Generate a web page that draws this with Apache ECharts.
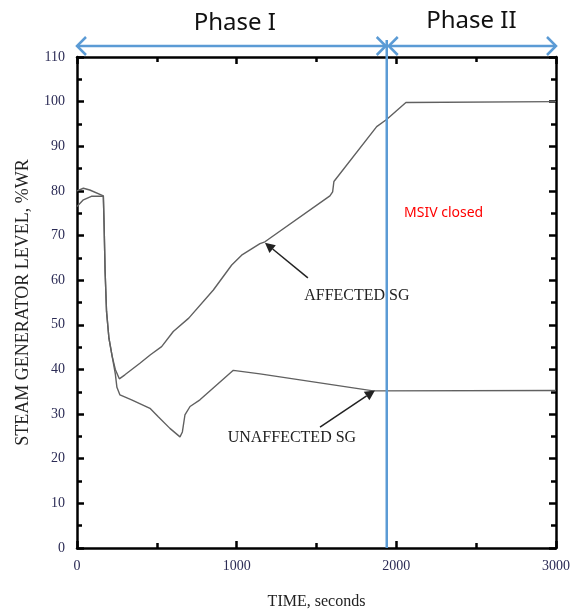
<!DOCTYPE html>
<html><head><meta charset="utf-8">
<script src="https://cdn.jsdelivr.net/npm/echarts@6/dist/echarts.min.js"></script>
<style>html,body{margin:0;padding:0;background:#fff}#c{width:579px;height:613px}</style>
</head><body><div id="c"></div>
<script>
// Data (time in seconds, level in %WR)
var affectedT = [0,40,80,165,170,176,185,200,220,240,265,300,394,460,530,603,700,854,969,1031,1146,1177,1584,1601,1609,1877,1939,2060,3000];
var affectedV = [80,80.6,80.2,78.9,72,62,53,47,43,40,37.9,38.8,41.4,43.3,45.1,48.5,51.5,57.8,63.4,65.6,68.2,68.6,78.9,79.8,82.1,94.4,96,99.8,100];
var unaffectedT = [0,40,90,165,170,176,185,200,220,240,250,269,342,457,509,582,645,660,676,708,770,979,1146,1855,3000];
var unaffectedV = [76.5,78,78.8,78.8,72,62,53,47,43,39,36,34.3,33.2,31.3,29.4,26.8,24.9,26,29.8,31.7,33.2,39.8,39.0,35.2,35.3];
var xTicks = [0,1000,2000,3000];
var yTicks = [0,10,20,30,40,50,60,70,80,90,100,110];
var msivTime = 1940;
var phaseLabels = ['Phase I','Phase II'];
var seriesLabels = ['AFFECTED SG','UNAFFECTED SG'];
// annotation anchors in data coords [t, v]
var affArrow = {tail:[1446,60.5], head:[1177,68.4], text:[1753,56.4]};
var unaArrow = {tail:[1522,27.1], head:[1866,35.3], text:[1346,24.6]};
var msivText = [2048,75];

function zip(t,v){return t.map(function(x,i){return [x,v[i]];});}

var chart = echarts.init(document.getElementById('c'));
var serif = '"Liberation Serif","DejaVu Serif",serif';
function tickLab(m){return {fontFamily:serif,fontSize:14,color:'#2b2b55',margin:m,formatter:function(v){return String(v);}};}
function ax(extra){
  var o = {
    axisLine:{show:true,onZero:false,lineStyle:{color:'#000',width:2.5}},
    axisTick:{show:true,inside:true,length:7,lineStyle:{color:'#000',width:2.5}},
    minorTick:{show:true,splitNumber:2,length:5,lineStyle:{color:'#000',width:2.5}},
    splitLine:{show:false}
  };
  for (var k in extra) o[k]=extra[k];
  return o;
}
var option = {
  animation:false,
  grid:{left:77,right:23,top:57,bottom:65,containLabel:false,outerBoundsMode:'none'},
  xAxis:[
    ax({type:'value',min:0,max:3000,interval:1000,position:'bottom',
      axisLabel:tickLab(11),
      name:'TIME, seconds',nameLocation:'middle',nameGap:46,
      nameTextStyle:{fontFamily:serif,fontSize:16,color:'#222'}}),
    ax({type:'value',min:0,max:3000,interval:1000,position:'top',axisLabel:{show:false}})
  ],
  yAxis:[
    ax({type:'value',min:0,max:110,interval:10,position:'left',
      axisLabel:tickLab(12),
      name:'STEAM GENERATOR LEVEL, %WR',nameLocation:'middle',nameGap:45,
      nameTextStyle:{fontFamily:serif,fontSize:18,color:'#222'}}),
    ax({type:'value',min:0,max:110,interval:10,position:'right',axisLabel:{show:false}})
  ],
  series:[
    {type:'line',name:seriesLabels[0],data:zip(affectedT,affectedV),showSymbol:false,
     lineStyle:{color:'#606060',width:1.4},z:3},
    {type:'line',name:seriesLabels[1],data:zip(unaffectedT,unaffectedV),showSymbol:false,
     lineStyle:{color:'#606060',width:1.4},z:3}
  ]
};
chart.setOption(option);

function px(p){return chart.convertToPixel({xAxisIndex:0,yAxisIndex:0},p);}
function arrow(tail,head,color,w,hl){
  var dx=head[0]-tail[0], dy=head[1]-tail[1], L=Math.sqrt(dx*dx+dy*dy), ux=dx/L, uy=dy/L;
  var bx=head[0]-ux*hl, by=head[1]-uy*hl, nx=-uy, ny=ux, hw=hl*0.5;
  return [
    {type:'line',shape:{x1:tail[0],y1:tail[1],x2:bx,y2:by},style:{stroke:color,lineWidth:w},z:10},
    {type:'polygon',shape:{points:[[head[0],head[1]],[bx+nx*hw,by+ny*hw],[bx-nx*hw,by-ny*hw]]},style:{fill:color},z:10}
  ];
}
function dblArrow(x1,x2,y,color){
  var g=[{type:'line',shape:{x1:x1,y1:y,x2:x2,y2:y},style:{stroke:color,lineWidth:2.5},z:10}];
  var h=9;
  g.push({type:'polyline',shape:{points:[[x1+h,y-h],[x1,y],[x1+h,y+h]]},style:{stroke:color,lineWidth:2.5,fill:null},z:10});
  g.push({type:'polyline',shape:{points:[[x2-h,y-h],[x2,y],[x2-h,y+h]]},style:{stroke:color,lineWidth:2.5,fill:null},z:10});
  return g;
}
var blue='#5b9bd5';
var p0=px([0,0]), pm=px([msivTime,0]), p3=px([3000,0]);
var els=[];
els.push({type:'line',shape:{x1:pm[0],y1:40,x2:pm[0],y2:p0[1]},style:{stroke:blue,lineWidth:2.5},z:11});
els=els.concat(dblArrow(p0[0],pm[0]-1,46,blue));
els=els.concat(dblArrow(pm[0]+2,p3[0],46,blue));
var sans='"Noto Sans","Open Sans",sans-serif';
els.push({type:'text',x:(p0[0]+pm[0])/2+3,y:23,style:{text:phaseLabels[0],font:'24px '+sans,fill:'#111',align:'center',verticalAlign:'middle'},z:12});
els.push({type:'text',x:(pm[0]+p3[0])/2,y:21,style:{text:phaseLabels[1],font:'24px '+sans,fill:'#111',align:'center',verticalAlign:'middle'},z:12});
els=els.concat(arrow(px(affArrow.tail),px(affArrow.head),'#222',1.5,10));
els=els.concat(arrow(px(unaArrow.tail),px(unaArrow.head),'#222',1.5,10));
var ta=px(affArrow.text), tu=px(unaArrow.text), tm=px(msivText);
els.push({type:'text',x:ta[0],y:ta[1],style:{text:seriesLabels[0],font:'16px '+serif,fill:'#222',align:'center',verticalAlign:'middle'},z:12});
els.push({type:'text',x:tu[0],y:tu[1],style:{text:seriesLabels[1],font:'16px '+serif,fill:'#222',align:'center',verticalAlign:'middle'},z:12});
els.push({type:'text',x:tm[0],y:tm[1],style:{text:'MSIV closed',font:'14px '+sans,fill:'#ff0000',align:'left',verticalAlign:'middle'},z:12});
chart.setOption({graphic:{elements:els}});
</script>
</body></html>
